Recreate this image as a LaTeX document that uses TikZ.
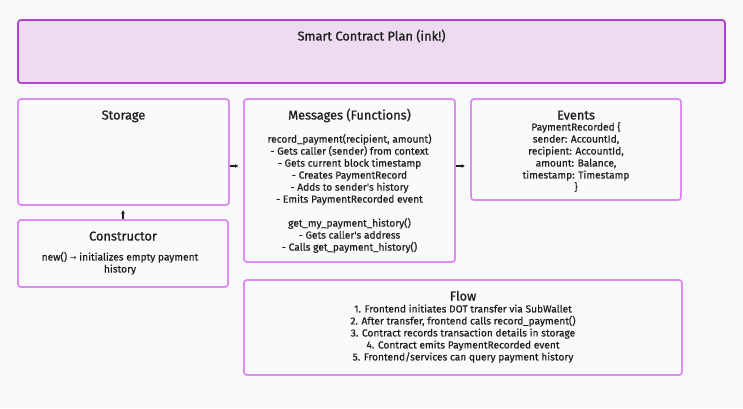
\documentclass[tikz,border=0pt]{standalone}
\usepackage{fontspec}
\setmainfont{Fira Sans}
\newfontfamily\headfont{Fira Sans}[FakeBold=0.9]
\newfontfamily\bodyfont{Fira Sans}[FakeBold=0.5]
\newfontfamily\arrowfont{DejaVu Sans}
\usetikzlibrary{arrows.meta}
\definecolor{bg}{HTML}{F8F9FB}
\definecolor{titlefill}{HTML}{EDDCF0}
\definecolor{titleborder}{HTML}{B043CC}
\definecolor{boxborder}{HTML}{E08AF2}
\definecolor{boxfill}{HTML}{F9FAFC}
\definecolor{ink}{HTML}{1E1E1E}
\tikzset{
  panel/.style={draw=boxborder, fill=boxfill, line width=1.8pt, rounded corners=3pt, inner sep=0pt},
  headpanel/.style={draw=titleborder, fill=titlefill, line width=1.8pt, rounded corners=3pt, inner sep=0pt},
  heading/.style={text=ink, font=\headfont\fontsize{12.8}{14}\selectfont, inner sep=0pt, anchor=base},
  body/.style={text=ink, font=\bodyfont\fontsize{10.2}{12}\selectfont, align=center, inner sep=0pt, anchor=base},
  conn/.style={draw=ink, line width=1.5pt, -{Latex[length=3.5pt,width=4pt]}}
}
\begin{document}
\begin{tikzpicture}[x=1pt,y=-1pt]
\fill[bg] (0,0) rectangle (743,408);
\useasboundingbox (0,0) rectangle (743,408);

\node[headpanel, minimum width=707pt, minimum height=63pt] (plan) at (371.5,51.5) {};
\node[heading] (plant) at (371.5,40.5) {Smart Contract Plan (ink!)};

\node[panel, minimum width=211pt, minimum height=106pt] (storage) at (123.5,152) {};
\node[heading] (storaget) at (123.5,119.5) {Storage};

\node[panel, minimum width=210pt, minimum height=67pt] (ctor) at (123,253.5) {};
\node[heading] (ctort) at (123,240.5) {Constructor};
\node[body] (ctorb1) at (120,260.5) {new() {\arrowfont\fontsize{8}{12}\selectfont →} initializes empty payment};
\node[body] (ctorb2) at (120,272.5) {history};

\node[panel, minimum width=211pt, minimum height=163pt] (msgs) at (349.5,180.5) {};
\node[heading] (msgst) at (349.5,119.5) {Messages (Functions)};
\node[body, anchor=north] (msgsb) at (349.5,133.8) {record\_payment(recipient, amount)\\
- Gets caller (sender) from context\\
- Gets current block timestamp\\
- Creates PaymentRecord\\
- Adds to sender's history\\
- Emits PaymentRecorded event\\[12pt]
get\_my\_payment\_history()\\
- Gets caller's address\\
- Calls get\_payment\_history()};

\node[panel, minimum width=210pt, minimum height=101pt] (events) at (576,149.5) {};
\node[heading] (eventst) at (576,119.5) {Events};
\node[body, anchor=north] (eventsb) at (576,121.8) {PaymentRecorded \{\\
sender: AccountId,\\
recipient: AccountId,\\
amount: Balance,\\
timestamp: Timestamp\\
\}};

\node[panel, minimum width=438pt, minimum height=95pt] (flow) at (463,327.5) {};
\node[heading] (flowt) at (463,300.5) {Flow};
\node[body, anchor=north] (flowb) at (463,304.3) {1. Frontend initiates DOT transfer via SubWallet\\
2. After transfer, frontend calls record\_payment()\\
3. Contract records transaction details in storage\\
4. Contract emits PaymentRecorded event\\
5. Frontend/services can query payment history};

\coordinate (c1) at (238.5,166);
\coordinate (c2) at (465,166);
\coordinate (c3) at (123,210);
\draw[conn] (storage.east |- c1) -- (c1);
\draw[conn] (msgs.east |- c2) -- (c2);
\draw[conn] (ctor.north) -- (c3);
\end{tikzpicture}
\end{document}
